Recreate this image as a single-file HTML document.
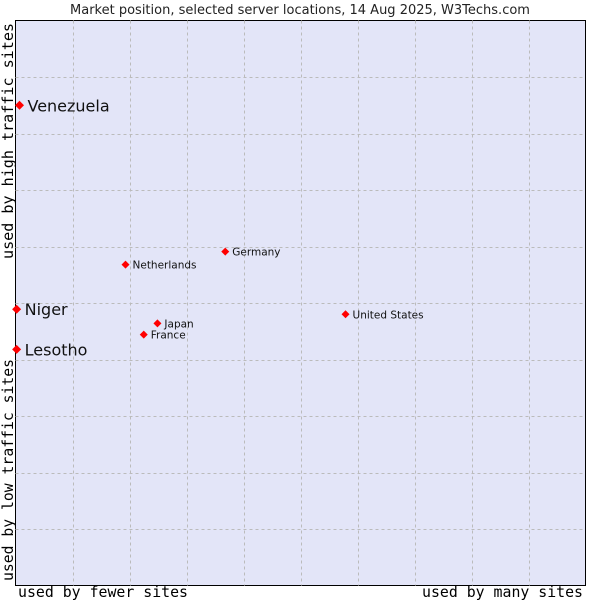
<!DOCTYPE html>
<html><head><meta charset="utf-8"><style>
body{margin:0;background:#fff;width:600px;height:600px;overflow:hidden}
svg text{font-family:"DejaVu Sans","Liberation Sans",sans-serif}
.mono{font-family:"DejaVu Sans Mono","Liberation Mono",monospace !important}
</style></head><body>
<svg width="600" height="600">
<text x="300" y="14" text-anchor="middle" font-size="13" fill="#222">Market position, selected server locations, 14 Aug 2025, W3Techs.com</text>
<rect x="15.5" y="20.5" width="570" height="565" fill="#e3e5f8" stroke="#000"/>
<g id="grid"></g>
<g id="pts"></g>
<text class="mono" x="18" y="597" font-size="15" textLength="170" lengthAdjust="spacingAndGlyphs">used by fewer sites</text>
<text class="mono" x="422" y="597" font-size="15" textLength="161" lengthAdjust="spacingAndGlyphs">used by many sites</text>
<text class="mono" transform="translate(13,581) rotate(-90)" font-size="15" textLength="222" lengthAdjust="spacingAndGlyphs">used by low traffic sites</text>
<text class="mono" transform="translate(13,259) rotate(-90)" font-size="15" textLength="236" lengthAdjust="spacingAndGlyphs">used by high traffic sites</text>
</svg>
<script>
const names=["Venezuela","Niger","Lesotho","Netherlands","Germany","Japan","France","United States"];
const xs=[0.7,0.2,0.2,19.3,36.8,24.9,22.5,57.9];
const ys=[85.0,48.9,41.8,56.8,59.1,46.4,44.4,48.0];
const big=[1,1,1,0,0,0,0,0];
const L=15.5,R=585.5,T=20.5,B=585.5;
const sx=v=>L+v/100*(R-L), sy=v=>B-v/100*(B-T);
const ns="http://www.w3.org/2000/svg";
const g=document.getElementById('grid');
for(let i=1;i<10;i++){
 const a=document.createElementNS(ns,'line');
 
 
 const x=Math.round(sx(i*10))+0.5;
 a.setAttribute('x1',x);a.setAttribute('x2',x);a.setAttribute('y1',T);a.setAttribute('y2',B);
 a.setAttribute('stroke','#bbb');a.setAttribute('stroke-dasharray','3,3');g.appendChild(a);
 const b=document.createElementNS(ns,'line');
 
 
 const y=Math.round(sy(i*10))+0.5;
 b.setAttribute('x1',L);b.setAttribute('x2',R);b.setAttribute('y1',y);b.setAttribute('y2',y);
 b.setAttribute('stroke','#bbb');b.setAttribute('stroke-dasharray','3,3');g.appendChild(b);
}
const p=document.getElementById('pts');
names.forEach((n,i)=>{
 const x=sx(xs[i]),y=sy(ys[i]);
 const d=document.createElementNS(ns,'path');
 
 
 const r=big[i]?4.5:4;
 d.setAttribute('d',`M${x-r},${y} L${x},${y-r} L${x+r},${y} L${x},${y+r} Z`);
 d.setAttribute('fill','#f00');p.appendChild(d);
 const t=document.createElementNS(ns,'text');
 
 
 t.setAttribute('x',x+(big[i]?8:7));t.setAttribute('y',y+(big[i]?6:4));
 t.setAttribute('font-size',big[i]?16:10.5);t.setAttribute('fill','#111');
 t.textContent=n;p.appendChild(t);
});
</script>
</body></html>
